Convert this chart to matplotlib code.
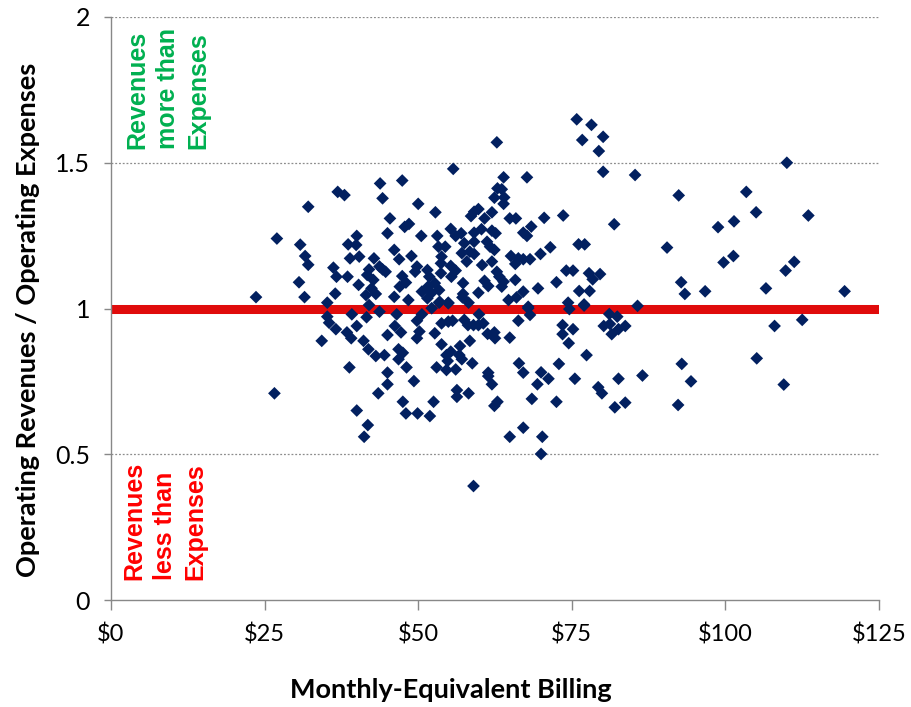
import matplotlib
matplotlib.use("Agg")
import matplotlib.pyplot as plt
from matplotlib.ticker import FuncFormatter

# Monthly-equivalent billing ($) and operating revenues / operating expenses ratio
billing = [
    36.9, 38.0, 32.1, 27.0, 30.8, 31.6, 32.1, 36.2, 36.7, 30.6, 23.6, 31.5, 36.5, 35.2,
    35.2, 35.5, 36.6, 34.3, 26.6,
    43.8, 47.4, 44.2, 50.0, 52.8, 45.4, 47.8, 48.5, 40.0, 45.0, 50.5, 53.1, 38.6, 39.9,
    46.1, 53.3, 38.9, 40.4, 42.8, 46.9, 48.9, 42.0, 43.7, 44.2, 49.8, 51.5, 38.5, 41.7,
    42.7, 44.7, 47.4, 48.0, 49.5, 51.8, 40.3, 42.4, 47.0, 50.6, 51.6, 52.7, 41.5, 43.1,
    46.1, 48.4, 52.2, 51.5, 42.0,
    39.2, 43.7, 46.5, 50.6, 52.2, 41.6, 40.0, 46.2, 47.2, 49.8, 50.2, 38.4, 39.1, 45.0,
    49.8, 52.7, 41.1, 41.9, 43.1, 44.5, 46.8, 47.5, 46.8, 38.8, 48.1, 53.0, 45.0, 49.3,
    45.0, 43.5, 47.5, 52.5, 40.0, 48.0, 49.9, 51.9, 41.8, 41.2,
    62.8, 55.7, 63.9, 67.7, 62.9, 63.6, 62.4, 64.0, 63.9, 59.8, 59.1, 58.6, 62.0, 60.8,
    64.9, 65.9, 68.4, 55.3, 56.1, 57.0, 59.1, 60.3, 62.0, 62.6, 67.1, 67.7, 54.4, 57.5,
    59.1, 61.2, 61.7, 62.4, 53.8, 57.1, 58.4, 59.1, 65.1, 66.3, 67.1, 68.2, 53.7, 57.9,
    60.4, 62.0, 65.8, 55.3, 56.1, 53.7, 62.8, 55.4, 63.2, 60.8, 57.3, 63.9, 65.8, 61.4,
    63.6, 53.4, 57.3, 59.8, 67.1, 57.2, 64.7, 66.0, 53.4, 54.9, 58.2, 67.9,
    53.5, 54.9, 67.9, 68.2, 59.9, 53.8, 54.9, 55.6, 57.5, 58.1, 59.0, 59.8, 60.6, 66.3,
    61.3, 62.4, 62.5, 64.9, 58.4, 53.8, 56.8, 55.3, 56.7, 57.1, 54.6, 54.8, 58.8, 66.4,
    54.6, 56.1, 67.1, 61.4, 61.4, 62.0, 56.3, 56.3, 58.2, 62.9, 62.4, 68.5, 67.1, 64.9,
    59.0,
    75.8, 78.2, 80.1, 76.7, 79.4, 80.1, 70.5, 73.6, 81.9, 71.5, 69.9, 76.1, 77.1, 74.1,
    75.2, 77.8, 78.4, 79.6, 72.5, 69.5, 76.2, 77.9, 74.4, 77.0,
    74.6, 77.0, 81.1, 82.4, 80.2, 81.2, 83.7, 73.5, 75.2, 73.5, 81.5, 82.6, 74.5, 77.4,
    72.9, 70.0, 71.2, 69.4, 75.5, 82.6, 79.3, 79.9, 72.5, 82.0, 83.7, 70.2, 70.0,
    85.3, 110.0, 92.4, 103.4, 105.0, 113.5, 98.8, 101.4, 90.5, 99.7, 101.3, 109.8, 111.2,
    92.8, 93.4, 96.7, 106.6, 119.4, 85.7, 108.0, 112.5, 105.1, 92.9, 86.5, 94.4, 109.5,
    92.3,
]
ratio = [
    1.400, 1.389, 1.349, 1.240, 1.219, 1.180, 1.150, 1.140, 1.109, 1.090, 1.039, 1.039, 1.051, 1.020,
    0.972, 0.951, 0.929, 0.889, 0.709,
    1.429, 1.439, 1.378, 1.359, 1.330, 1.309, 1.280, 1.290, 1.249, 1.258, 1.249, 1.249, 1.220, 1.218,
    1.201, 1.212, 1.172, 1.178, 1.172, 1.169, 1.180, 1.134, 1.144, 1.134, 1.144, 1.132, 1.109, 1.115,
    1.098, 1.126, 1.111, 1.089, 1.126, 1.109, 1.081, 1.069, 1.075, 1.058, 1.075, 1.087, 1.046, 1.050,
    1.040, 1.029, 1.054, 1.035, 1.012,
    0.980, 0.989, 0.980, 0.980, 1.001, 0.970, 0.940, 0.940, 0.918, 0.958, 0.921, 0.918, 0.898, 0.909,
    0.898, 0.915, 0.889, 0.860, 0.837, 0.840, 0.860, 0.848, 0.826, 0.798, 0.798, 0.798, 0.780, 0.751,
    0.740, 0.709, 0.680, 0.680, 0.650, 0.640, 0.640, 0.631, 0.600, 0.560,
    1.570, 1.479, 1.450, 1.450, 1.412, 1.409, 1.380, 1.381, 1.359, 1.341, 1.332, 1.317, 1.330, 1.309,
    1.309, 1.309, 1.281, 1.273, 1.249, 1.258, 1.260, 1.272, 1.267, 1.258, 1.260, 1.249, 1.212, 1.224,
    1.229, 1.229, 1.212, 1.201, 1.178, 1.190, 1.195, 1.187, 1.180, 1.172, 1.169, 1.169, 1.155, 1.161,
    1.149, 1.161, 1.153, 1.146, 1.130, 1.121, 1.126, 1.109, 1.109, 1.095, 1.087, 1.092, 1.098, 1.077,
    1.075, 1.063, 1.050, 1.054, 1.058, 1.038, 1.029, 1.038, 1.020, 1.020, 1.020, 1.006,
    1.023, 1.018, 1.001, 0.978, 0.980, 0.949, 0.955, 0.958, 0.961, 0.943, 0.943, 0.943, 0.949, 0.958,
    0.913, 0.918, 0.898, 0.900, 0.889, 0.877, 0.871, 0.852, 0.840, 0.826, 0.840, 0.820, 0.812, 0.812,
    0.789, 0.791, 0.780, 0.780, 0.768, 0.740, 0.720, 0.697, 0.709, 0.680, 0.666, 0.690, 0.591, 0.560,
    0.391,
    1.649, 1.630, 1.589, 1.578, 1.540, 1.469, 1.311, 1.319, 1.289, 1.210, 1.187, 1.220, 1.220, 1.130,
    1.130, 1.121, 1.100, 1.118, 1.090, 1.069, 1.060, 1.060, 1.020, 1.014,
    0.998, 1.010, 0.981, 0.972, 0.940, 0.947, 0.940, 0.943, 0.929, 0.912, 0.912, 0.929, 0.881, 0.840,
    0.810, 0.781, 0.759, 0.740, 0.759, 0.759, 0.730, 0.709, 0.680, 0.661, 0.677, 0.560, 0.501,
    1.458, 1.500, 1.388, 1.400, 1.330, 1.319, 1.279, 1.299, 1.209, 1.158, 1.180, 1.130, 1.160,
    1.090, 1.050, 1.059, 1.069, 1.059, 1.009, 0.940, 0.961, 0.829, 0.810, 0.770, 0.750, 0.739,
    0.669,
]

breakeven = 1.0
x_ticks = [0, 25, 50, 75, 100, 125]
y_ticks = [0, 0.5, 1, 1.5, 2]
x_label = "Monthly-Equivalent Billing"
y_label = "Operating Revenues / Operating Expenses"
note_above = "Revenues\nmore than\nExpenses"
note_below = "Revenues\nless than\nExpenses"

fig = plt.figure(figsize=(9.12, 7.07), dpi=100)
ax = fig.add_axes([111/912, 107/707, 768/912, 583/707])

ax.set_xlim(0, 125)
ax.set_ylim(0, 2)

for yv in [0.5, 1.5, 2.0]:
    ax.axhline(yv, color="#8c8c8c", lw=0.9, ls=(0, (1.5, 1.5)), zorder=1)

ax.axhline(breakeven, color="#e00b0b", lw=6.5, zorder=2, solid_capstyle="butt")
ax.scatter(billing, ratio, marker="D", s=42, color="#022060", edgecolors="none", zorder=3)

ax.set_xticks(x_ticks)
ax.set_yticks(y_ticks)
ax.xaxis.set_major_formatter(FuncFormatter(lambda v, p: f"${v:.0f}"))
ax.yaxis.set_major_formatter(FuncFormatter(lambda v, p: f"{v:g}"))

for s in ["top", "right"]:
    ax.spines[s].set_visible(False)
for s in ["left", "bottom"]:
    ax.spines[s].set_color("#888888")
    ax.spines[s].set_linewidth(1.0)

ax.tick_params(axis="x", direction="out", length=7, width=1, color="#888888",
               labelsize=17, pad=10, labelcolor="black")
ax.tick_params(axis="y", direction="out", length=5, width=1, color="#888888",
               labelsize=18, pad=10, labelcolor="black")
for lab in ax.get_xticklabels() + ax.get_yticklabels():
    lab.set_fontfamily("Lato")

ax.set_xlabel(x_label, fontsize=19.5, fontweight="bold", family="Lato")
ax.xaxis.set_label_coords((451 - 111) / 768, -(690 - 600) / 583)
ax.xaxis.label.set_va("center")
ax.set_ylabel(y_label, fontsize=19.5, fontweight="bold", family="Lato")
ax.yaxis.set_label_coords(-(111 - 28) / 768, (600 - 320) / 583)
ax.yaxis.label.set_va("center")

note_font = ["Liberation Sans Narrow", "Liberation Sans"]
ax.text(9.3, 1.756, note_above, rotation=90, ha="center", va="center",
        multialignment="left", color="#00b050", fontsize=18, fontweight="bold",
        family=note_font, linespacing=1.35, zorder=4)
ax.text(8.8, 0.271, note_below, rotation=90, ha="center", va="center",
        multialignment="left", color="#ff0000", fontsize=18, fontweight="bold",
        family=note_font, linespacing=1.35, zorder=4)

fig.savefig("out.png", dpi=100)
